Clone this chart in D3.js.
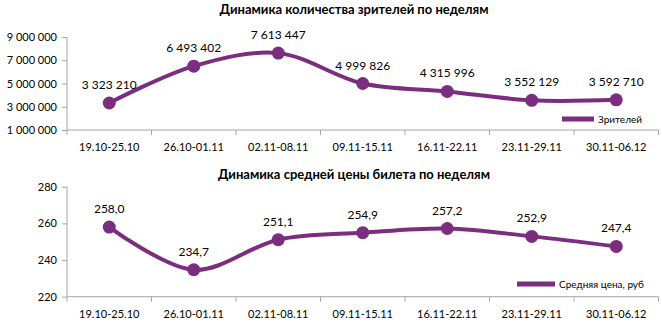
<!DOCTYPE html>
<html>
<head>
<meta charset="utf-8">
<script src="https://cdn.jsdelivr.net/npm/d3@7/dist/d3.min.js"></script>
<style>
  html, body { margin: 0; padding: 0; background: #fff; }
  svg { display: block; font-family: Lato, "Open Sans", sans-serif; }
</style>
</head>
<body>
<svg id="chart" width="662" height="326"></svg>
<script>
// Weekly periods
const weeks = ["19.10-25.10", "26.10-01.11", "02.11-08.11", "09.11-15.11", "16.11-22.11", "23.11-29.11", "30.11-06.12"];
// Viewers per week
const viewers = [3323210, 6493402, 7613447, 4999826, 4315996, 3552129, 3592710];
// Average ticket price per week, rub
const avgPrice = [258.0, 234.7, 251.1, 254.9, 257.2, 252.9, 247.4];
// Axis ticks
const viewerTicks = [1000000, 3000000, 5000000, 7000000, 9000000];
const priceTicks = [220, 240, 260, 280];

const purple = "#7b2d7f";
const axisColor = "#a6a6a6";
const svg = d3.select("#chart");

const spaceFmt = n => d3.format(",")(n).replace(/,/g, " ");
const commaFmt = n => d3.format(".1f")(n).replace(".", ",");

function drawPanel(opts) {
  const g = svg.append("g");
  const x = d3.scaleBand().domain(weeks).range([67, 658.5]);
  const y = d3.scaleLinear().domain(opts.domain).range([opts.bottom, opts.top]);

  // title
  g.append("text")
    .attr("x", 354).attr("y", opts.titleY)
    .attr("text-anchor", "middle")
    .attr("font-size", 13).attr("font-weight", "bold")
    .attr("fill", "#000")
    .text(opts.title);

  // y axis
  const ya = g.append("g").attr("transform", `translate(67,0)`)
    .call(d3.axisLeft(y).tickValues(opts.ticks).tickSize(5).tickFormat(opts.tickFmt));
  ya.select(".domain").attr("stroke", axisColor).attr("d", `M0,${opts.top}V${opts.bottom}`);
  ya.selectAll(".tick line").attr("stroke", axisColor);
  ya.selectAll(".tick text").attr("font-family", "Lato, sans-serif").attr("font-size", 11).attr("fill", "#000").attr("x", -10);

  // x axis
  const xa = g.append("g").attr("transform", `translate(0,${opts.bottom})`);
  xa.append("line").attr("x1", 67).attr("x2", 658.5).attr("stroke", axisColor);
  const bounds = weeks.map(w => x(w)).concat([x.range()[1]]);
  xa.selectAll("line.tk").data(bounds).enter().append("line")
    .attr("class", "tk")
    .attr("x1", d => d).attr("x2", d => d).attr("y1", 0).attr("y2", 5)
    .attr("stroke", axisColor);
  xa.selectAll("text").data(weeks).enter().append("text")
    .attr("x", d => x(d) + x.bandwidth() / 2).attr("y", 21)
    .attr("text-anchor", "middle").attr("font-size", 11).attr("fill", "#000")
    .text(d => d);

  const cx = (d, i) => x(weeks[i]) + x.bandwidth() / 2;
  const line = d3.line().x(cx).y(d => y(d)).curve(d3.curveCatmullRom.alpha(0.5));

  g.append("path").datum(opts.values)
    .attr("d", line).attr("fill", "none")
    .attr("stroke", purple).attr("stroke-width", 4).attr("stroke-linejoin", "round");

  g.selectAll("circle").data(opts.values).enter().append("circle")
    .attr("cx", cx).attr("cy", d => y(d)).attr("r", 6.5).attr("fill", purple);

  g.selectAll("text.lbl").data(opts.values).enter().append("text")
    .attr("class", "lbl")
    .attr("x", cx).attr("y", d => y(d) - 14)
    .attr("text-anchor", "middle").attr("font-size", 12).attr("fill", "#000")
    .text(opts.labelFmt);

  // legend
  g.append("rect").attr("x", opts.legX).attr("y", opts.legY - 2.5).attr("width", opts.legW).attr("height", 5).attr("fill", purple);
  g.append("text").attr("x", opts.legX + opts.legW + 4).attr("y", opts.legY + 3.5)
    .attr("font-size", 10).attr("fill", "#000").text(opts.legend);
}

drawPanel({
  title: "Динамика количества зрителей по неделям", titleY: 14,
  values: viewers, domain: [1000000, 9000000], ticks: viewerTicks,
  top: 37, bottom: 130, tickFmt: spaceFmt, labelFmt: spaceFmt,
  legend: "Зрителей", legX: 562, legY: 119, legW: 32
});

drawPanel({
  title: "Динамика средней цены билета по неделям", titleY: 179,
  values: avgPrice, domain: [220, 280], ticks: priceTicks,
  top: 186.7, bottom: 296.7, tickFmt: d3.format("d"), labelFmt: commaFmt,
  legend: "Средняя цена, руб", legX: 517, legY: 284, legW: 38
});
</script>
</body>
</html>
